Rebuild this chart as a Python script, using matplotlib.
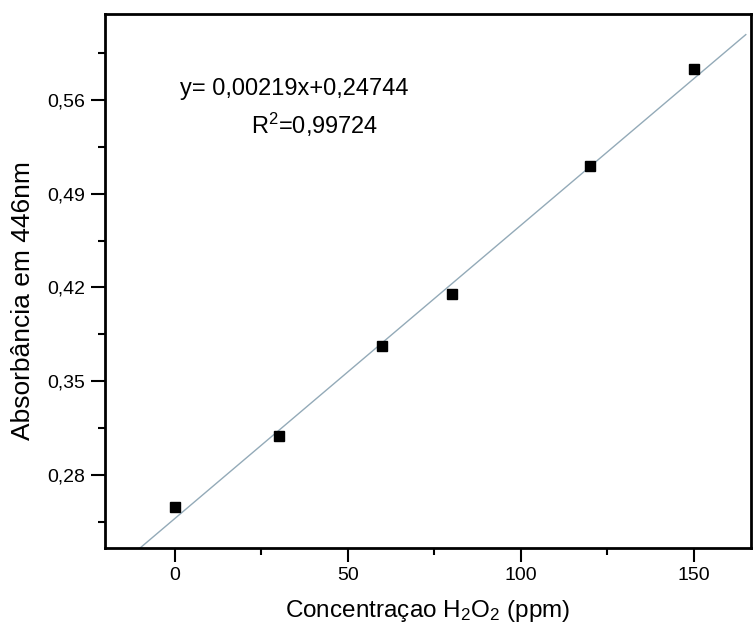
import numpy as np
import matplotlib
matplotlib.use("Agg")
import matplotlib.pyplot as plt
from matplotlib.ticker import FixedLocator, FuncFormatter

plt.rcParams["font.family"] = ["Liberation Sans", "DejaVu Sans"]
plt.rcParams["mathtext.fontset"] = "custom"
plt.rcParams["mathtext.rm"] = "Liberation Sans"
plt.rcParams["mathtext.it"] = "Liberation Sans"

# concentracao de H2O2 (ppm) e absorbancia medida em 446 nm
conc = [0, 30, 60, 80, 120, 150]
absorb = [0.256, 0.309, 0.376, 0.415, 0.511, 0.583]

# reta de calibracao ajustada
slope = 0.00219
intercept = 0.24744
r2 = 0.99724
fit_x = [-10, 165]

y_ticks = [0.28, 0.35, 0.42, 0.49, 0.56]
x_ticks = [0, 50, 100, 150]


def virgula(v, p=None, nd=2):
    return ("%.*f" % (nd, v)).replace(".", ",")


fig = plt.figure(figsize=(7.54, 6.35), dpi=100)
ax = fig.add_axes([0.139, 0.137, 0.857, 0.841])

fx = np.array(fit_x, dtype=float)
ax.plot(fx, intercept + slope * fx, color="#93aab8", lw=1.0, zorder=2)
ax.plot(conc, absorb, "s", color="black", ms=7.5, zorder=3)

ax.set_xlim(-20.2, 166.5)
ax.set_ylim(0.2255, 0.6242)

ax.xaxis.set_major_locator(FixedLocator(x_ticks))
ax.xaxis.set_minor_locator(FixedLocator([25, 75, 125]))
ax.yaxis.set_major_locator(FixedLocator(y_ticks))
ax.yaxis.set_minor_locator(FixedLocator([0.245, 0.315, 0.385, 0.455, 0.525, 0.595]))
ax.yaxis.set_major_formatter(FuncFormatter(virgula))

ax.tick_params(which="major", direction="out", length=10, width=1.5, labelsize=14, pad=4)
ax.tick_params(which="minor", direction="out", length=5, width=1.5)
for s in ax.spines.values():
    s.set_linewidth(2)

ax.set_xlabel("Concentraçao H$_2$O$_2$ (ppm)", fontsize=17.5, labelpad=10)
ax.set_ylabel("Absorbância em 446nm", fontsize=19)
ax.yaxis.set_label_coords(-0.108, 0.464)

ax.text(34.4, 0.5683, "y= %sx+%s" % (virgula(slope, nd=5), virgula(intercept, nd=5)),
        fontsize=17, ha="center", va="center")
ax.text(40.5, 0.5414, "R$^2$=" + virgula(r2, nd=5), fontsize=17, ha="center", va="center")

fig.savefig("out.png", dpi=100)
